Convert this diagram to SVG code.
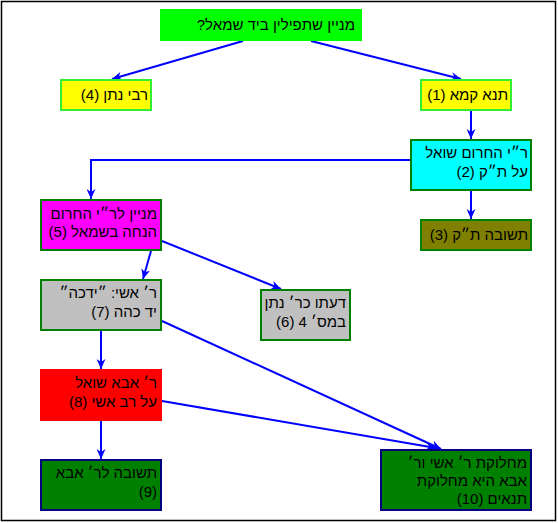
<svg xmlns="http://www.w3.org/2000/svg" width="558" height="523" viewBox="0 0 558 523">
<style>
text{font-family:"Liberation Sans","DejaVu Sans",sans-serif;font-size:15px;fill:#000;direction:rtl;text-anchor:start}
.c{stroke:#0000ff;stroke-width:2;fill:none;marker-end:url(#ah)}
.bl{stroke:#33ee33;stroke-width:2}
.bg{stroke:#008000;stroke-width:2}
.bn{stroke:#000080;stroke-width:2}
</style>
<defs>
<marker id="ah" markerUnits="userSpaceOnUse" markerWidth="11" markerHeight="9" refX="10" refY="4.5" orient="auto">
<path d="M0,0 L10,4.5 L0,9 L3,4.5 z" fill="#0000ff"/>
</marker>
</defs>
<rect x="1.5" y="1.5" width="554" height="519" fill="#fff" stroke="#000" stroke-width="1.5"/>
<g id="connectors">
<line class="c" x1="243" y1="41" x2="112" y2="79"/>
<line class="c" x1="311" y1="41" x2="461" y2="79"/>
<line class="c" x1="471" y1="110" x2="471" y2="139"/>
<line class="c" x1="471" y1="191" x2="471" y2="219"/>
<polyline class="c" points="411,160 91,160 91,199"/>
<line class="c" x1="151" y1="251" x2="143" y2="279"/>
<line class="c" x1="162" y1="241" x2="281" y2="289"/>
<line class="c" x1="101" y1="331" x2="101" y2="369"/>
<line class="c" x1="162" y1="321" x2="441" y2="449"/>
<line class="c" x1="101" y1="421" x2="101" y2="459"/>
<line class="c" x1="162" y1="401" x2="436" y2="448"/>
</g>
<g id="n0"><rect x="160" y="9" width="202" height="32" fill="#00ff00"/><text x="355" y="30">מניין שתפילין ביד שמאל?</text></g>
<g id="n4"><rect class="bl" x="61" y="80" width="90" height="30" fill="#ffff00"/><text x="148" y="100">רבי נתן (4)</text></g>
<g id="n1"><rect class="bl" x="421" y="80" width="90" height="30" fill="#ffff00"/><text x="508" y="100">תנא קמא (1)</text></g>
<g id="n2"><rect class="bg" x="411" y="140" width="120" height="50" fill="#00ffff"/><text x="528" y="158">ר״י החרום שואל</text><text x="528" y="177">על ת״ק (2)</text></g>
<g id="n3"><rect class="bg" x="421" y="220" width="110" height="30" fill="#808000"/><text x="528" y="240">תשובה ת״ק (3)</text></g>
<g id="n5"><rect class="bg" x="41" y="200" width="120" height="50" fill="#ff00ff"/><text x="157" y="219">מניין לר״י החרום</text><text x="157" y="237">הנחה בשמאל (5)</text></g>
<g id="n7"><rect class="bg" x="41" y="280" width="120" height="50" fill="#c0c0c0"/><text x="157" y="298">ר׳ אשי: ״ידכה״</text><text x="157" y="317">יד כהה (7)</text></g>
<g id="n6"><rect class="bg" x="261" y="290" width="89" height="50" fill="#c0c0c0"/><text x="346" y="308">דעתו כר׳ נתן</text><text x="346" y="327">במס׳ 4 (6)</text></g>
<g id="n8"><rect x="40" y="369" width="122" height="52" fill="#ff0000"/><text x="157" y="388">ר׳ אבא שואל</text><text x="157" y="407">על רב אשי (8)</text></g>
<g id="n9"><rect class="bn" x="41" y="460" width="120" height="50" fill="#008000"/><text x="157" y="478">תשובה לר׳ אבא</text><text x="157" y="497">(9)</text></g>
<g id="n10"><rect class="bn" x="381" y="450" width="150" height="60" fill="#008000"/><text x="527" y="468">מחלוקת ר׳ אשי ור׳</text><text x="527" y="486">אבא היא מחלוקת</text><text x="527" y="504">תנאים (10)</text></g>
</svg>
